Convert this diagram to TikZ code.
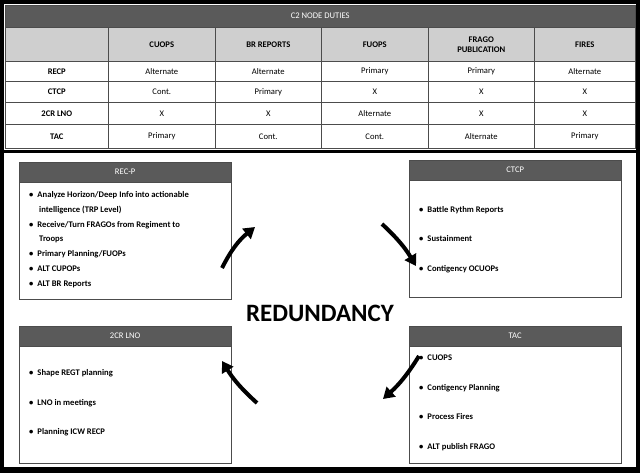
\documentclass[tikz,border=0pt]{standalone}
\usepackage{fontspec}
\setmainfont{Carlito}
\usetikzlibrary{arrows.meta,positioning}
\definecolor{hdrdark}{HTML}{5A5A5A}
\definecolor{hdrlight}{HTML}{CFCFCF}
\tikzset{
  cell/.style={draw=black!70, line width=0.6pt, inner sep=0pt, anchor=north west},
  celltext/.style={font=\fontsize{8.6}{9}\selectfont},
  boxhead/.style={draw=black!70, fill=hdrdark, text=white, inner sep=0pt, anchor=north west, font=\fontsize{8.6}{9}\selectfont},
  boxbody/.style={draw=black!70, fill=white, inner sep=0pt, anchor=north west},
  item/.style={anchor=west, inner sep=0pt, font=\bfseries\fontsize{8.6}{9}\selectfont},
  cyclearrow/.style={line width=4pt, -{Triangle[length=11pt,width=13pt]}}
}
\begin{document}
\begin{tikzpicture}[x=1pt,y=-1pt]
  \useasboundingbox (0,0) rectangle (640,473);
  \fill[black] (0,0) rectangle (640,473);
  \fill[white] (4,4) rectangle (636,150);
  \fill[white] (4,153) rectangle (636,467);

  % table
  \node[boxhead, minimum width=630pt, minimum height=22pt] (title) at (5,5) {C2 NODE DUTIES};
  \foreach \x/\w/\name/\txt in {5/103/hc0/{}, 108/107/hc1/CUOPS, 215/106/hc2/BR REPORTS,
      321/107/hc3/FUOPS, 428/106/hc4/{FRAGO\\PUBLICATION}, 534/101/hc5/FIRES}
    \node[cell, fill=hdrlight, minimum width=\w pt, minimum height=34pt, align=center,
      font=\bfseries\fontsize{8.6}{10}\selectfont] (\name) at (\x,27) {\txt};
  \foreach \y/\h/\r/\a/\b/\c/\d/\e/\f in {
      61/20/1/RECP/Alternate/Alternate/Primary/Primary/Alternate,
      81/21/2/CTCP/Cont./Primary/X/X/X,
      102/22/3/2CR LNO/X/X/Alternate/X/X,
      124/24/4/TAC/Primary/Cont./Cont./Alternate/Primary}{
    \node[cell, minimum width=103pt, minimum height=\h pt, font=\bfseries\fontsize{8.6}{9}\selectfont] (r\r c0) at (5,\y) {\a};
    \node[cell, minimum width=107pt, minimum height=\h pt, celltext] (r\r c1) at (108,\y) {\b};
    \node[cell, minimum width=106pt, minimum height=\h pt, celltext] (r\r c2) at (215,\y) {\c};
    \node[cell, minimum width=107pt, minimum height=\h pt, celltext] (r\r c3) at (321,\y) {\d};
    \node[cell, minimum width=106pt, minimum height=\h pt, celltext] (r\r c4) at (428,\y) {\e};
    \node[cell, minimum width=101pt, minimum height=\h pt, celltext] (r\r c5) at (534,\y) {\f};
  }

  % duty boxes
  \foreach \x/\y/\name/\txt in {19/162/recp/REC-P, 409/160/ctcp/CTCP, 19/326/lno/2CR LNO, 409/326/tac/TAC}{
    \node[boxbody, minimum width=212pt, minimum height=137pt] (\name box) at (\x,\y) {};
    \node[boxhead, minimum width=212pt, minimum height=20pt] (\name head) at (\x,\y) {\txt};
  }

  % items
  \foreach \y/\txt in {195/{Analyze Horizon/Deep Info into actionable}, 225/{Receive/Turn FRAGOs from Regiment to},
      254/{Primary Planning/FUOPs}, 269/ALT CUPOPs, 284/ALT BR Reports}
    \node[item] at (29,\y) {•\hspace{4pt}\txt};
  \node[item] (recpcont1) at (39,210) {intelligence (TRP Level)};
  \node[item] (recpcont2) at (39,239) {Troops};
  \foreach \y/\txt in {210/Battle Rythm Reports, 239/Sustainment, 269/Contigency OCUOPs}
    \node[item] at (419,\y) {•\hspace{4pt}\txt};
  \foreach \y/\txt in {373/Shape REGT planning, 403/LNO in meetings, 432/Planning ICW RECP}
    \node[item] at (29,\y) {•\hspace{4pt}\txt};
  \foreach \y/\txt in {358/CUOPS, 388/Contigency Planning, 417/Process Fires, 447/ALT publish FRAGO}
    \node[item] at (419,\y) {•\hspace{4pt}\txt};

  \node[font=\bfseries\fontsize{25}{27}\selectfont] (redundancy) at (320,313) {REDUNDANCY};

  % cycle arrows
  \coordinate (a1) at (222,268); \coordinate (b1) at (255,227);
  \coordinate (a2) at (382,224); \coordinate (b2) at (416,266);
  \coordinate (a3) at (419,356); \coordinate (b3) at (383,399);
  \coordinate (a4) at (257,403); \coordinate (b4) at (222,361);
  \draw[cyclearrow] (a1) to[bend left=12] (b1);
  \draw[cyclearrow] (a2) to[bend left=8] (b2);
  \draw[cyclearrow] (a3) to[bend left=8] (b3);
  \draw[cyclearrow] (a4) to[bend left=8] (b4);
\end{tikzpicture}
\end{document}
